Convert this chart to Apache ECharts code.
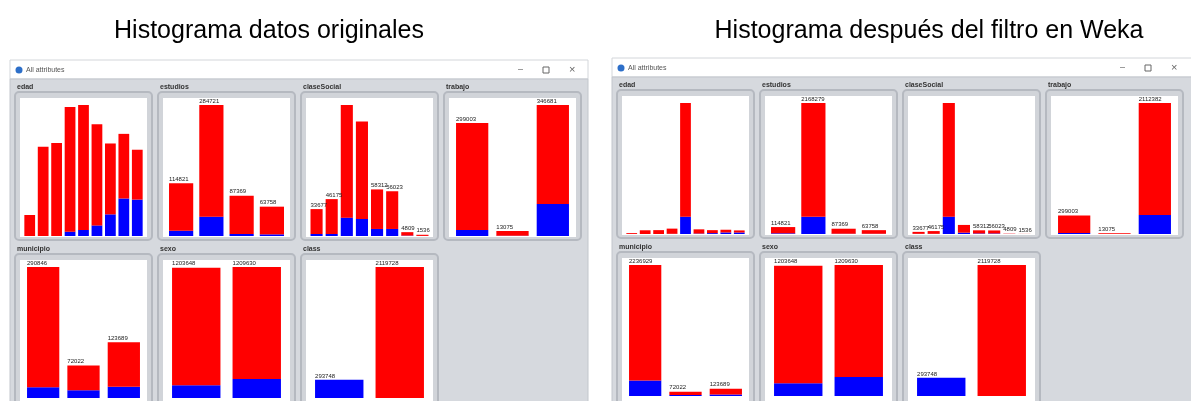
<!DOCTYPE html>
<html>
<head>
<meta charset="utf-8">
<script src="https://cdn.jsdelivr.net/npm/echarts@6/dist/echarts.min.js"></script>
<style>
  html, body { margin: 0; padding: 0; background: #fff; }
  #main { width: 1191px; height: 401px; }
</style>
</head>
<body>
<div id="main"></div>
<script>
// bins de cada atributo (no se dibujan, solo posicionan las barras)
var edadCat = ['1', '2', '3', '4', '5', '6', '7', '8', '9'];
var estudiosCat = ['1', '2', '3', '4'];
var claseSocialCat = ['1', '2', '3', '4', '5', '6', '7', '8'];
var trabajoCat = ['1', '2', '3'];
var municipioCat = ['1', '2', '3'];
var sexoCat = ['1', '2'];
var classCat = ['1', '2'];

// datos originales: parte azul (clase 1) y parte roja (clase 2) de cada barra
var edadAzulOrig = [0, 0, 0, 2700, 3800, 6600, 13500, 23400, 22700];
var edadRojoOrig = [13100, 55600, 58000, 77800, 77900, 63100, 44200, 40300, 31100];
var estudiosAzulOrig = [11600, 42000, 4300, 3600];
var estudiosRojoOrig = [103221, 242721, 83069, 60158];
var claseSocialAzulOrig = [2500, 2500, 23000, 21300, 8800, 8800, 500, 100];
var claseSocialRojoOrig = [31177, 43675, 141000, 121900, 49512, 47223, 4309, 1436];
var trabajoAzulOrig = [15900, 500, 84700];
var trabajoRojoOrig = [283103, 12575, 261981];
var municipioAzulOrig = [23700, 17000, 25200];
var municipioRojoOrig = [267146, 55022, 98489];
var sexoAzulOrig = [117400, 176348];
var sexoRojoOrig = [1086248, 1033282];
var classAzulOrig = [293748, 0];
var classRojoOrig = [0, 2119728];

// despues del filtro en Weka
var edadAzulFilt = [0, 0, 0, 2700, 258900, 6600, 13500, 23400, 22700];
var edadRojoFilt = [13100, 55600, 58000, 77800, 1702278, 63100, 44200, 40300, 31100];
var estudiosAzulFilt = [11600, 285000, 4300, 3600];
var estudiosRojoFilt = [103221, 1883279, 83069, 60158];
var claseSocialAzulFilt = [2500, 2500, 274000, 21300, 8800, 8800, 500, 100];
var claseSocialRojoFilt = [31177, 43675, 1795546, 121900, 49512, 47223, 4309, 1436];
var trabajoAzulFilt = [15900, 500, 305000];
var trabajoRojoFilt = [283103, 12575, 1807382];
var municipioAzulFilt = [265000, 17000, 25200];
var municipioRojoFilt = [1971929, 55022, 98489];
var sexoAzulFilt = [117400, 176348];
var sexoRojoFilt = [1086248, 1033282];
var classAzulFilt = [293748, 0];
var classRojoFilt = [0, 2119728];

var ventanas = [
  {
    x: 10, y: 60, ancho: 578, titulo: 'Histograma datos originales', tx: 269,
    paneles: [
      { nombre: 'edad', cat: edadCat, azul: edadAzulOrig, rojo: edadRojoOrig, sinEtiqueta: 'todas' },
      { nombre: 'estudios', cat: estudiosCat, azul: estudiosAzulOrig, rojo: estudiosRojoOrig },
      { nombre: 'claseSocial', cat: claseSocialCat, azul: claseSocialAzulOrig, rojo: claseSocialRojoOrig, sinEtiqueta: [2, 3] },
      { nombre: 'trabajo', cat: trabajoCat, azul: trabajoAzulOrig, rojo: trabajoRojoOrig },
      { nombre: 'municipio', cat: municipioCat, azul: municipioAzulOrig, rojo: municipioRojoOrig },
      { nombre: 'sexo', cat: sexoCat, azul: sexoAzulOrig, rojo: sexoRojoOrig },
      { nombre: 'class', cat: classCat, azul: classAzulOrig, rojo: classRojoOrig }
    ]
  },
  {
    x: 612, y: 58, ancho: 580, titulo: 'Histograma después del filtro en Weka', tx: 929,
    paneles: [
      { nombre: 'edad', cat: edadCat, azul: edadAzulFilt, rojo: edadRojoFilt, sinEtiqueta: 'todas' },
      { nombre: 'estudios', cat: estudiosCat, azul: estudiosAzulFilt, rojo: estudiosRojoFilt },
      { nombre: 'claseSocial', cat: claseSocialCat, azul: claseSocialAzulFilt, rojo: claseSocialRojoFilt, sinEtiqueta: [2, 3] },
      { nombre: 'trabajo', cat: trabajoCat, azul: trabajoAzulFilt, rojo: trabajoRojoFilt },
      { nombre: 'municipio', cat: municipioCat, azul: municipioAzulFilt, rojo: municipioRojoFilt },
      { nombre: 'sexo', cat: sexoCat, azul: sexoAzulFilt, rojo: sexoRojoFilt },
      { nombre: 'class', cat: classCat, azul: classAzulFilt, rojo: classRojoFilt }
    ]
  }
];

var FUENTE = 'Arial, "Liberation Sans", sans-serif';
var graphic = [], grid = [], xAxis = [], yAxis = [], series = [];

function texto(x, y, t, size, color, extra) {
  var st = { text: t, fontSize: size, fontFamily: FUENTE, fill: color, textVerticalAlign: 'middle' };
  for (var k in extra) st[k] = extra[k];
  return { type: 'text', x: x, y: y, silent: true, style: st };
}
function caja(x, y, w, h, fill, stroke, lw, r) {
  return { type: 'rect', silent: true, shape: { x: x, y: y, width: w, height: h, r: r || 0 },
    style: { fill: fill, stroke: stroke || null, lineWidth: lw || 0 } };
}

ventanas.forEach(function (v) {
  // titulo de la diapositiva
  graphic.push(texto(v.tx, 31, v.titulo, 25, '#000', { textAlign: 'center' }));
  // ventana de Weka
  graphic.push(caja(v.x, v.y, v.ancho, 19, '#ffffff', '#d3d6da', 1));
  graphic.push(caja(v.x, v.y + 19, v.ancho, 401 - v.y, '#d6d9de', '#c2c6cc', 1));
  graphic.push({ type: 'circle', silent: true, shape: { cx: v.x + 9, cy: v.y + 10, r: 3.5 }, style: { fill: '#2d6fc9' } });
  graphic.push(texto(v.x + 16, v.y + 10, 'All attributes', 7, '#555'));
  graphic.push(texto(v.x + 508, v.y + 10, '–', 9, '#666'));
  graphic.push(caja(v.x + 533, v.y + 7, 6, 6, null, '#666', 1));
  graphic.push(texto(v.x + 559, v.y + 10, '×', 11, '#666'));

  v.paneles.forEach(function (p, i) {
    var col = i % 4, fila = Math.floor(i / 4);
    var fx = v.x + 5 + col * 143;
    var fy = v.y + (fila === 0 ? 32 : 194);
    var alto = fila === 0 ? 148 : 401 - fy + 10;
    graphic.push(texto(fx + 2, fy - 5, p.nombre, 7, '#333', { fontWeight: 'bold' }));
    graphic.push(caja(fx, fy, 137, alto, '#d1d4d9', '#b5b9c0', 2, 4));
    graphic.push(caja(fx + 5, fy + 6, 127, alto - 9, '#ffffff'));

    var total = p.azul.map(function (a, k) { return a + p.rojo[k]; });
    var maximo = Math.max.apply(null, total);
    var g = grid.length;
    grid.push({ left: fx + 8, top: fy + 13, width: 121, height: 131 });
    xAxis.push({ type: 'category', gridIndex: g, data: p.cat, show: false });
    yAxis.push({ type: 'value', gridIndex: g, min: 0, max: maximo, show: false });
    var comun = { type: 'bar', xAxisIndex: g, yAxisIndex: g, barCategoryGap: '20%', barGap: '-100%', silent: true };
    series.push(Object.assign({ name: 'azul' + g, stack: 's' + g, data: p.azul, itemStyle: { color: '#0000ff' } }, comun));
    series.push(Object.assign({ name: 'rojo' + g, stack: 's' + g, data: p.rojo, itemStyle: { color: '#ff0000' } }, comun));
    series.push(Object.assign({
      name: 'total' + g,
      data: total.map(function (t, k) {
        var oculto = p.sinEtiqueta === 'todas' || (p.sinEtiqueta && p.sinEtiqueta.indexOf(k) >= 0);
        return { value: t, label: { show: !oculto } };
      }),
      itemStyle: { color: 'rgba(0,0,0,0)' },
      label: { show: true, position: [0, -7], fontSize: 6, fontFamily: FUENTE, color: '#222',
        formatter: function (q) { return String(q.value); } }
    }, comun));
  });
});

var chart = echarts.init(document.getElementById('main'));
chart.setOption({
  animation: false,
  backgroundColor: '#ffffff',
  graphic: graphic,
  grid: grid,
  xAxis: xAxis,
  yAxis: yAxis,
  series: series
});
</script>
</body>
</html>
